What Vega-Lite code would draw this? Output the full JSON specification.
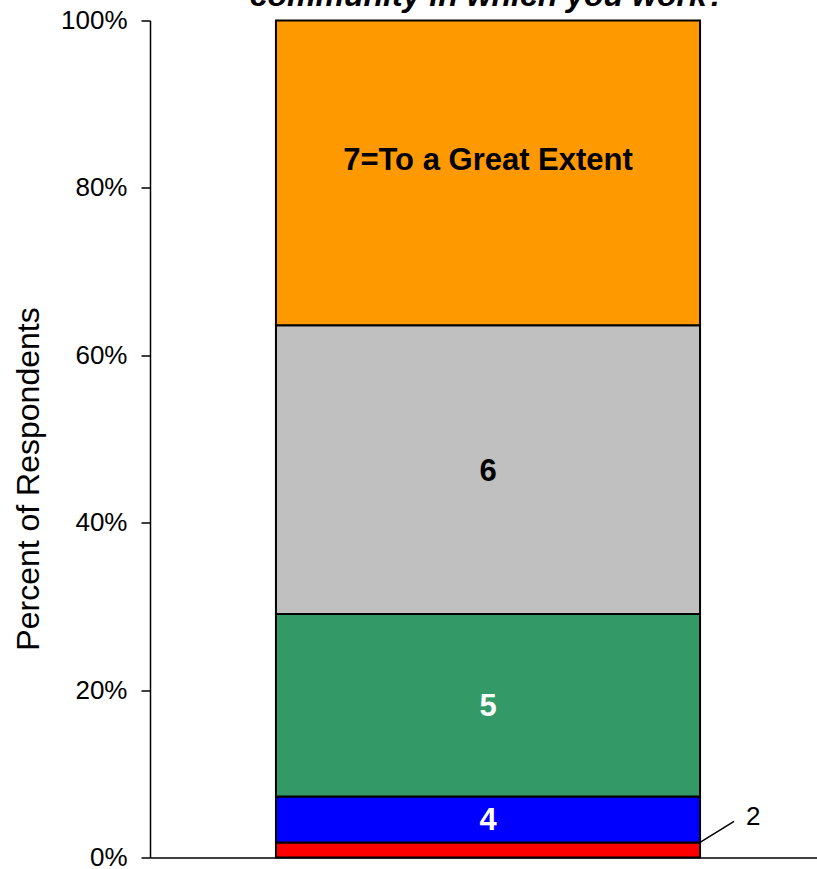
{
  "$schema": "https://vega.github.io/schema/vega-lite/v6.json",
  "width": 676,
  "height": 837,
  "autosize": "none",
  "padding": {"left": 150, "top": 20.5, "right": 0, "bottom": 11.5},
  "background": "white",
  "config": {
    "font": "Liberation Sans",
    "view": {"stroke": null}
  },
  "title": {
    "text": "community in which you work?",
    "font": "Liberation Sans",
    "fontSize": 32,
    "fontWeight": "bold",
    "fontStyle": "italic",
    "color": "black",
    "anchor": "middle",
    "frame": "group",
    "baseline": "alphabetic",
    "offset": 0,
    "dy": 30
  },
  "data": {
    "values": [
      {"cat": "All", "score": 2, "label": "2", "pct": 1.8},
      {"cat": "All", "score": 4, "label": "4", "pct": 5.5},
      {"cat": "All", "score": 5, "label": "5", "pct": 21.8},
      {"cat": "All", "score": 6, "label": "6", "pct": 34.5},
      {"cat": "All", "score": 7, "label": "7=To a Great Extent", "pct": 36.4}
    ]
  },
  "transform": [
    {"stack": "pct", "groupby": ["cat"], "sort": [{"field": "score", "order": "ascending"}], "as": ["lo", "hi"]},
    {"calculate": "(datum.lo + datum.hi) / 2", "as": "mid"}
  ],
  "encoding": {
    "x": {
      "field": "cat",
      "type": "nominal",
      "scale": {"paddingInner": 0, "paddingOuter": 0.297},
      "axis": {
        "title": null,
        "labels": false,
        "ticks": false,
        "domainColor": "black",
        "domainWidth": 1.5,
        "grid": false
      }
    }
  },
  "layer": [
    {
      "mark": {"type": "bar", "stroke": "black", "strokeWidth": 2},
      "encoding": {
        "y": {
          "field": "lo",
          "type": "quantitative",
          "scale": {"domain": [0, 100], "nice": false},
          "axis": {
            "title": "Percent of Respondents",
            "titleFont": "Liberation Sans",
            "titleFontSize": 32,
            "titleFontWeight": "normal",
            "titleColor": "black",
            "titlePadding": 15,
            "titleY": 458,
            "values": [0, 20, 40, 60, 80, 100],
            "labelExpr": "datum.value + '%'",
            "labelFont": "Liberation Sans",
            "labelFontSize": 26,
            "labelColor": "black",
            "labelPadding": 14,
            "tickSize": 9,
            "tickColor": "black",
            "tickWidth": 1.5,
            "domainColor": "black",
            "domainWidth": 1.5,
            "grid": false
          }
        },
        "y2": {"field": "hi"},
        "color": {
          "field": "score",
          "type": "ordinal",
          "scale": {
            "domain": [2, 4, 5, 6, 7],
            "range": ["#FF0000", "#0000FF", "#339966", "#C0C0C0", "#FF9900"]
          },
          "legend": null
        }
      }
    },
    {
      "transform": [{"filter": "datum.score >= 4 && datum.score <= 6"}],
      "mark": {"type": "text", "fontSize": 31, "fontWeight": "bold", "baseline": "middle", "align": "center", "dy": 2},
      "encoding": {
        "y": {"field": "mid", "type": "quantitative"},
        "text": {"field": "label"},
        "color": {
          "condition": {"test": "datum.score <= 5", "value": "white"},
          "value": "black"
        }
      }
    },
    {
      "transform": [{"filter": "datum.score == 7"}],
      "mark": {"type": "text", "fontSize": 31, "fontWeight": "bold", "baseline": "middle", "align": "center", "dy": -12, "color": "black"},
      "encoding": {
        "y": {"field": "mid", "type": "quantitative"},
        "text": {"field": "label"}
      }
    },
    {
      "transform": [{"filter": "datum.score == 2"}],
      "mark": {"type": "rule", "color": "black", "strokeWidth": 1.5, "x2Offset": 34, "y2Offset": -21},
      "encoding": {
        "x": {"field": "cat", "type": "nominal", "bandPosition": 1},
        "x2": {"field": "cat", "bandPosition": 1},
        "y": {"field": "hi", "type": "quantitative"},
        "y2": {"field": "hi"}
      }
    },
    {
      "transform": [{"filter": "datum.score == 2"}],
      "mark": {"type": "text", "fontSize": 26, "align": "left", "baseline": "alphabetic", "dx": 46, "dy": -17, "color": "black"},
      "encoding": {
        "x": {"field": "cat", "type": "nominal", "bandPosition": 1},
        "y": {"field": "hi", "type": "quantitative"},
        "text": {"field": "label"}
      }
    }
  ]
}
